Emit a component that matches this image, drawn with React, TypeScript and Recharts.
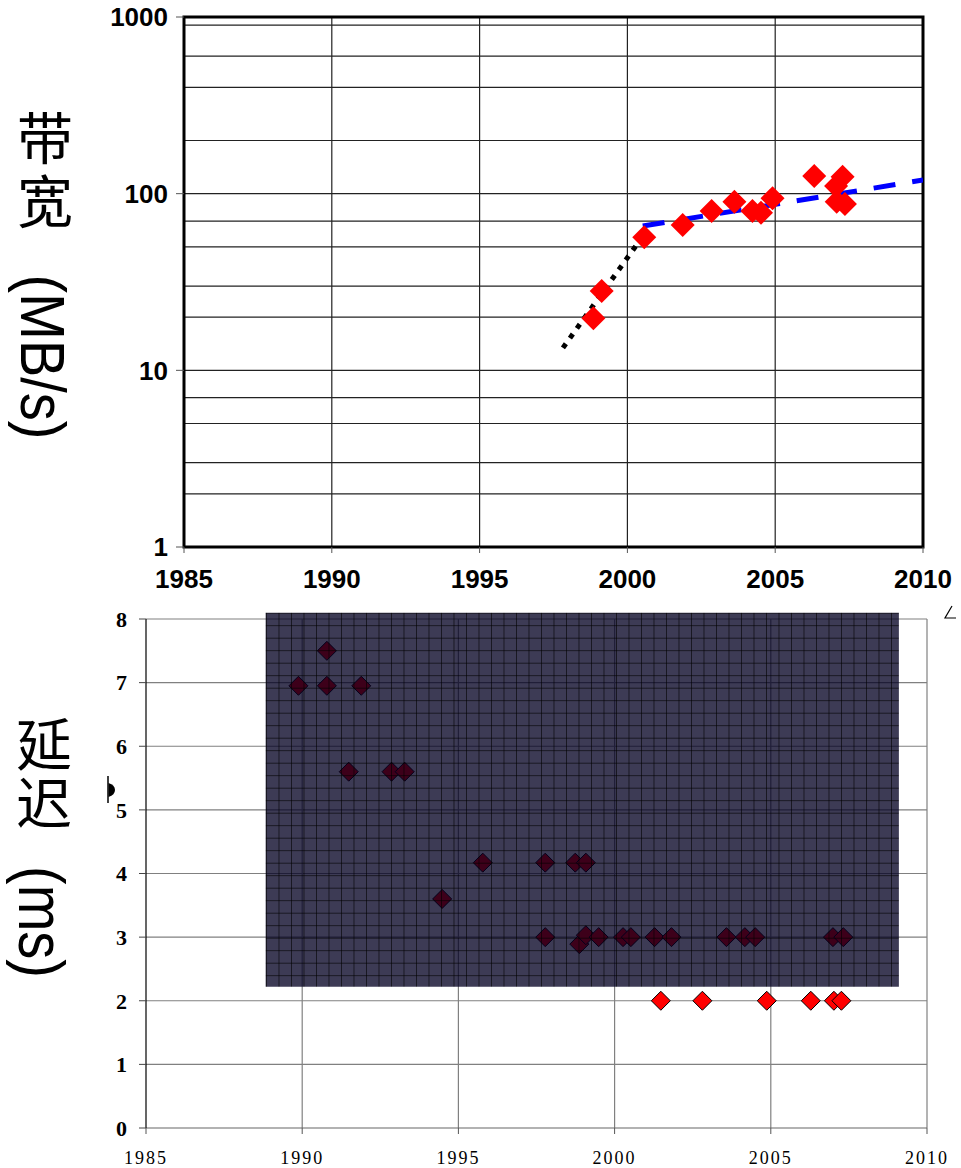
import React from "react";
import {
  ComposedChart,
  Scatter,
  Line,
  XAxis,
  YAxis,
  CartesianGrid,
  ReferenceArea,
} from "recharts";

// ---------- Top chart: bandwidth (MB/s), log scale ----------
const bwYears = [1998.85, 1999.13, 2000.57, 2001.87, 2002.85, 2003.62, 2004.23, 2004.52, 2004.91, 2006.32, 2007.28, 2007.06, 2007.08, 2007.36];
const bwValues = [19.7, 28.1, 56.6, 66.5, 79.8, 90.1, 79.8, 78, 94.1, 125.9, 124.7, 110.5, 90, 87.4];

const dottedYears = [1997.82, 2000.43];
const dottedValues = [13.4, 54.7];

const dashedYears = [2000.52, 2010];
const dashedValues = [65.6, 119.5];

const bwYTicks = [1, 10, 100, 1000];
const bwMinorGrid = [2, 3, 4, 5, 6, 7, 8, 9, 10, 20, 30, 40, 50, 60, 70, 80, 90, 100, 200, 300, 400, 500, 600, 700, 800, 900];
const yearTicks = [1985, 1990, 1995, 2000, 2005, 2010];
const topVGrid = [1990, 1995, 2000, 2005];

// ---------- Bottom chart: latency (ms) ----------
const latYears = [1989.88, 1990.79, 1990.79, 1991.89, 1991.49, 1992.86, 1993.28, 1994.48, 1995.78, 1997.78, 1998.74, 1999.08, 1997.78, 1998.87, 1999.08, 1999.49, 2000.27, 2000.52, 2001.28, 2001.82, 2003.58, 2004.17, 2004.5, 2006.99, 2007.32, 2001.48, 2002.81, 2004.87, 2006.28, 2007.02, 2007.26];
const latValues = [6.95, 7.5, 6.95, 6.95, 5.6, 5.6, 5.6, 3.6, 4.17, 4.17, 4.17, 4.17, 3.0, 2.89, 3.03, 3.0, 3.0, 3.0, 3.0, 3.0, 3.0, 3.0, 3.0, 3.0, 3.0, 2, 2, 2, 2, 2, 2];
const latYTicks = [0, 1, 2, 3, 4, 5, 6, 7, 8];
const latHGrid = [1, 2, 3, 4, 5, 6, 7, 8];
const latVGrid = [1990, 1995, 2000, 2005, 2010];

// overlay picture (grid image pasted on the slide), in data units
const overlayX = [1988.83, 2009.1];
const overlayY = [2.22, 8.1];

const bwData = bwYears.map((x, i) => ({ x, y: bwValues[i] }));
const dottedData = dottedYears.map((x, i) => ({ x, y: dottedValues[i] }));
const dashedData = dashedYears.map((x, i) => ({ x, y: dashedValues[i] }));
const latData = latYears.map((x, i) => ({ x, y: latValues[i] }));

const BigDiamond = (props: any) => {
  const { cx, cy } = props;
  if (cx == null || cy == null) return null;
  const r = 12;
  return <polygon points={`${cx},${cy - r} ${cx + r},${cy} ${cx},${cy + r} ${cx - r},${cy}`} fill="#ff0000" />;
};

const SmallDiamond = (props: any) => {
  const { cx, cy } = props;
  if (cx == null || cy == null) return null;
  const r = 9.5;
  return (
    <polygon
      points={`${cx},${cy - r} ${cx + r},${cy} ${cx},${cy + r} ${cx - r},${cy}`}
      fill="#ff0000"
      stroke="#000"
      strokeWidth={1}
    />
  );
};

const topTick = { fontFamily: "Liberation Sans, Arial, sans-serif", fontWeight: 700, fontSize: 26, fill: "#000" };
const botYTick = { fontFamily: "Liberation Serif, serif", fontSize: 22, fontWeight: 700, fill: "#000" };
const botXTick = { fontFamily: "Liberation Serif, serif", fontSize: 18, fill: "#000", letterSpacing: 2 };

export default function App() {
  return (
    <div style={{ position: "absolute", left: 0, top: 0, width: 961, height: 1168, background: "#fff", overflow: "hidden" }}>
      <svg width={0} height={0} style={{ position: "absolute" }}>
        <defs>
          <pattern id="overlayGrid" patternUnits="userSpaceOnUse" x={266} y={12.7} width={12.5} height={12.5}>
            <rect x={0} y={0} width={12.5} height={12.5} fill="rgb(3,0,34)" fillOpacity={0.77} />
            <line x1={0} y1={0} x2={12.5} y2={0} stroke="#000" strokeWidth={1.2} />
            <line x1={0} y1={0} x2={0} y2={12.5} stroke="#000" strokeWidth={1.2} />
          </pattern>
        </defs>
      </svg>

      {/* Top chart */}
      <div style={{ position: "absolute", left: 0, top: 0 }}>
        <ComposedChart width={961} height={600} margin={{ top: 17, right: 38, bottom: 23, left: 0 }}>
          <CartesianGrid
            stroke="#222"
            strokeWidth={1.2}
            horizontalValues={bwMinorGrid}
            verticalValues={topVGrid}
          />
          <XAxis
            dataKey="x"
            type="number"
            domain={[1985, 2010]}
            ticks={yearTicks}
            allowDataOverflow
            height={30}
            tick={topTick}
            tickSize={6}
            tickMargin={17}
            tickLine={{ stroke: "#555" }}
            axisLine={false}
          />
          <YAxis
            dataKey="y"
            type="number"
            scale="log"
            domain={[1, 1000]}
            ticks={bwYTicks}
            allowDataOverflow
            width={184}
            tick={topTick}
            tickSize={8}
            tickMargin={8}
            tickLine={{ stroke: "#555" }}
            axisLine={false}
          />
          <Line
            data={dottedData}
            dataKey="y"
            stroke="#000"
            strokeWidth={5}
            strokeDasharray="5 7"
            dot={false}
            activeDot={false}
            isAnimationActive={false}
          />
          <Scatter data={bwData} dataKey="y" shape={BigDiamond} isAnimationActive={false} />
          <Line
            data={dashedData}
            dataKey="y"
            stroke="#0000ff"
            strokeWidth={5}
            strokeDasharray="22 17"
            dot={false}
            activeDot={false}
            isAnimationActive={false}
          />
          <ReferenceArea x1={1985} x2={2010} y1={1} y2={1000} fill="none" fillOpacity={0} stroke="#000" strokeWidth={3} />
        </ComposedChart>
      </div>

      {/* Bottom chart */}
      <div style={{ position: "absolute", left: 0, top: 600 }}>
        <ComposedChart width={961} height={568} margin={{ top: 19, right: 34, bottom: 10, left: 0 }}>
          <CartesianGrid
            stroke="#808080"
            strokeWidth={1.2}
            horizontalValues={latHGrid}
            verticalValues={latVGrid}
          />
          <XAxis
            dataKey="x"
            type="number"
            domain={[1985, 2010]}
            ticks={yearTicks}
            allowDataOverflow
            height={30}
            tick={botXTick}
            tickSize={6}
            tickMargin={17}
            tickLine={{ stroke: "#555" }}
            axisLine={{ stroke: "#666", strokeWidth: 1.2 }}
          />
          <YAxis
            dataKey="y"
            type="number"
            domain={[0, 8]}
            ticks={latYTicks}
            allowDataOverflow
            width={146}
            tick={botYTick}
            tickSize={7}
            tickMargin={12}
            tickLine={{ stroke: "#444" }}
            axisLine={{ stroke: "#000", strokeWidth: 1.2 }}
          />
          <Scatter data={latData} dataKey="y" shape={SmallDiamond} isAnimationActive={false} />
          <ReferenceArea
            x1={overlayX[0]}
            x2={overlayX[1]}
            y1={overlayY[0]}
            y2={overlayY[1]}
            ifOverflow="visible"
            fill="url(#overlayGrid)"
            fillOpacity={1}
            stroke="none"
            zIndex={1000}
          />
        </ComposedChart>
      </div>

      {/* Vertical axis titles and stray marks */}
      <svg width={961} height={1168} style={{ position: "absolute", left: 0, top: 0, pointerEvents: "none" }}>
        <g fontFamily="Noto Sans CJK SC, sans-serif" fontSize={56} fontWeight={400} fill="#000">
          <text x={45} y={110} style={{ writingMode: "vertical-rl" }} letterSpacing={7}>带宽</text>
          <text x={44} y={716} style={{ writingMode: "vertical-rl" }} letterSpacing={3}>延迟</text>
        </g>
        <g fontFamily="Liberation Sans, Arial, sans-serif" fontSize={56} fill="#000" textAnchor="middle">
          <text transform="translate(43,357) rotate(90) scale(1,1.12)" dominantBaseline="central">(MB/s)</text>
          <text transform="translate(41,922) rotate(90) scale(1,1.15)" dominantBaseline="central">(ms)</text>
        </g>
        <line x1={108} y1={776} x2={108} y2={803} stroke="#000" strokeWidth={1.5} />
        <path d="M108.5,783 Q115,785 115,790 Q115,795 108.5,797 Z" fill="#000" />
        <path d="M952,606 L945,618 L956,618" stroke="#000" strokeWidth={1.2} fill="none" />
      </svg>
    </div>
  );
}
